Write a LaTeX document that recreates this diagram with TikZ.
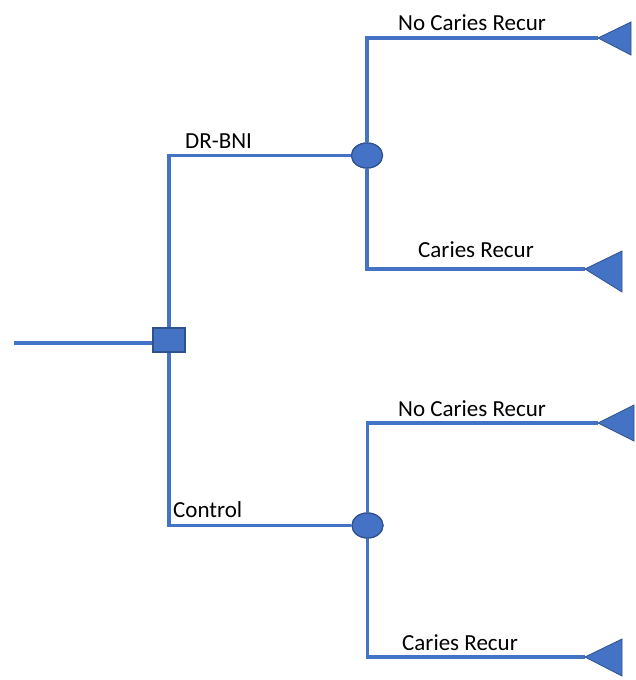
\documentclass[tikz,border=0pt]{standalone}
\usepackage{fontspec}
\setmainfont{Carlito}
\usetikzlibrary{shapes.geometric}
\definecolor{lineblue}{HTML}{4472C4}
\definecolor{edgeblue}{HTML}{2F528F}
\begin{document}
\begin{tikzpicture}[x=1pt,y=-1pt,
  conn/.style={draw=lineblue,line width=3.5pt},
  decision/.style={rectangle,fill=lineblue,draw=edgeblue,line width=1.2pt,minimum width=32pt,minimum height=24pt,inner sep=0pt},
  chance/.style={ellipse,fill=lineblue,draw=edgeblue,line width=1.2pt,minimum width=31pt,minimum height=25pt,inner sep=0pt},
  terminal/.style={fill=lineblue,draw=edgeblue,line width=0.8pt,line join=miter},
  lbl/.style={anchor=base west,inner sep=0pt,font=\fontsize{23}{28}\selectfont,text=black}]
\useasboundingbox (0,0) rectangle (636,680);

% decision and chance nodes
\node[decision] (sq) at (169,340) {};
\node[chance] (e1) at (367,155.5) {};
\node[chance] (e2) at (367.5,525.5) {};

% terminal tips
\coordinate (t1) at (598,38);
\coordinate (t2) at (585,269);
\coordinate (t3) at (598,423);
\coordinate (t4) at (585,657);
\coordinate (start) at (14,343);

% connectors
\draw[conn] (start) -- (start -| sq.west);
\draw[conn] (sq.north) |- (e1.west);
\draw[conn] (sq.south) |- (e2.west);
\draw[conn] (e1.north) |- (t1);
\draw[conn] (e1.south) |- (t2);
\draw[conn] (e2.north) |- (t3);
\draw[conn] (e2.south) |- (t4);

% redraw nodes on top
\node[decision] at (sq) {};
\node[chance] at (e1) {};
\node[chance] at (e2) {};

% terminal triangles
\path[terminal] (t1) -- (631,22) -- (631,55) -- cycle;
\path[terminal] (t2) -- (622,251) -- (622,292) -- cycle;
\path[terminal] (t3) -- (634,405) -- (634,441) -- cycle;
\path[terminal] (t4) -- (622,639) -- (622,676) -- cycle;

% labels
\node[lbl] (l1) at (185,148) {DR-BNI};
\node[lbl] (l2) at (398,30) {No Caries Recur};
\node[lbl] (l3) at (418,257) {Caries Recur};
\node[lbl] (l4) at (398,416) {No Caries Recur};
\node[lbl] (l5) at (173,517) {Control};
\node[lbl] (l6) at (402,650) {Caries Recur};
\end{tikzpicture}
\end{document}
